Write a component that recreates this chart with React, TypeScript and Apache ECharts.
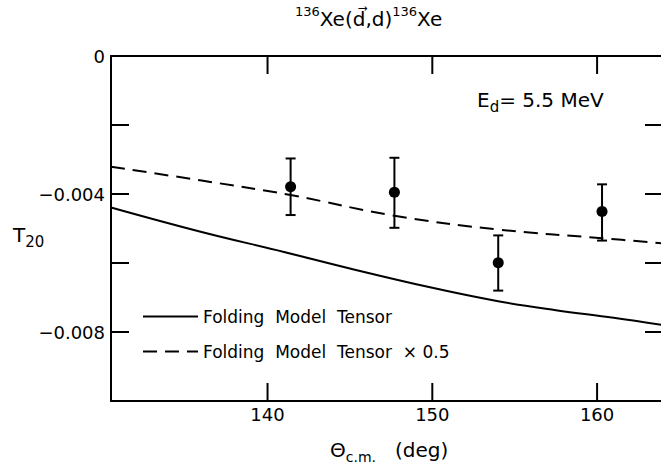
import React, { useEffect, useRef } from "react";
import * as echarts from "echarts";

const FONT = "DejaVu Sans";

// Data points with error bars
const pointX = [141.4, 147.7, 154.0, 160.3];
const pointY = [-0.00379, -0.00395, -0.00599, -0.00451];
const errHigh = [-0.00297, -0.00295, -0.0052, -0.00372];
const errLow = [-0.00461, -0.00498, -0.0068, -0.00535];

// Folding model tensor (solid)
const solidX = [130.5, 136, 141, 145, 150, 154, 157.5, 161, 164];
const solidY = [-0.00439, -0.0051, -0.00568, -0.00616, -0.00672, -0.00711, -0.00737, -0.00759, -0.0078];

// Folding model tensor x 0.5 (dashed)
const dashX = [130.5, 136, 141.4, 147.7, 154, 160.3, 164];
const dashY = [-0.00321, -0.00361, -0.00403, -0.00463, -0.00503, -0.00528, -0.00543];

const xTicks = [140, 150, 160];
const yLabelValues = [0, -0.004, -0.008];
const yMin = -0.01;
const yMax = 0;

const seriesNames = ["Folding  Model  Tensor", "Folding  Model  Tensor  \u00d7 0.5"];

export default function App() {
  const ref = useRef<HTMLDivElement>(null);

  useEffect(() => {
    if (!ref.current) return;
    const chart = echarts.init(ref.current, null, { renderer: "svg" });
    const axisLine = { show: true, onZero: false, lineStyle: { color: "#000", width: 2 } };
    const tick = {
      show: true,
      inside: true,
      length: 18,
      lineStyle: { color: "#000", width: 2 },
    };
    const main = { fontFamily: FONT, fontSize: 20, fontWeight: "normal", color: "#000", lineHeight: 28 };
    const sup = { fontFamily: FONT, fontSize: 13, fontWeight: "normal", color: "#000", lineHeight: 13, verticalAlign: "top" };
    const sub = { fontFamily: FONT, fontSize: 15, fontWeight: "normal", color: "#000", lineHeight: 15, verticalAlign: "bottom" };
    const ts = (rich: any) => ({ fontWeight: "normal", fontFamily: FONT, rich });

    chart.setOption({
      animation: false,
      backgroundColor: "#fff",
      title: [
        {
          text: "{sup|136}{m|Xe(d\u20d7,d)}{sup|136}{m|Xe}",
          left: 295,
          top: 5,
          padding: 0,
          textStyle: ts({ m: main, sup }),
        },
        {
          text: "{m|E}{s|d}{m|= 5.5 MeV}",
          left: 477,
          top: 86,
          padding: 0,
          textStyle: ts({ m: main, s: sub }),
        },
        {
          text: "{m|T}{s|20}",
          left: 13,
          top: 221,
          padding: 0,
          textStyle: ts({ m: main, s: sub }),
        },
        {
          text: "{m|\u0398}{s|c.m.}{m|   (deg)}",
          left: 330,
          top: 436,
          padding: 0,
          textStyle: ts({ m: main, s: { ...sub, fontSize: 14, lineHeight: 14 } }),
        },
      ],
      legend: {
        orient: "vertical",
        left: 142,
        top: 308,
        itemWidth: 55,
        itemHeight: 14,
        itemGap: 18,
        padding: 0,
        data: seriesNames,
        itemStyle: { opacity: 0 },
        textStyle: { fontFamily: FONT, fontSize: 17, color: "#000" },
      },
      grid: { left: 111, top: 56, width: 552, height: 345 },
      xAxis: [
        {
          type: "value",
          min: 130.5,
          max: 164,
          splitNumber: 3,
          position: "bottom",
          axisLine,
          axisTick: { show: false },
          splitLine: { show: false },
          axisLabel: {
            customValues: xTicks,
            fontFamily: FONT,
            fontSize: 18,
            color: "#000",
            margin: 4,
          },
        },
        {
          type: "value",
          min: 130.5,
          max: 164,
          splitNumber: 3,
          position: "top",
          axisLine,
          axisTick: { show: false },
          splitLine: { show: false },
          axisLabel: { show: false },
        },
      ],
      yAxis: [
        {
          type: "value",
          min: yMin,
          max: yMax,
          interval: 0.002,
          position: "left",
          axisLine,
          axisTick: tick,
          splitLine: { show: false },
          axisLabel: {
            customValues: yLabelValues,
            fontFamily: FONT,
            fontSize: 18,
            color: "#000",
            margin: 6,
            formatter: (v: number) => (Math.abs(v) < 1e-9 ? "0" : "\u2212" + Math.abs(v).toFixed(3)),
          },
        },
        {
          type: "value",
          min: yMin,
          max: yMax,
          interval: 0.002,
          position: "right",
          axisLine,
          axisTick: tick,
          splitLine: { show: false },
          axisLabel: { show: false },
        },
      ],
      series: [
        {
          name: seriesNames[0],
          type: "line",
          data: solidX.map((x, i) => [x, solidY[i]]),
          smooth: 0.4,
          symbol: "none",
          lineStyle: { color: "#000", width: 2 },
          itemStyle: { color: "#000" },
        },
        {
          name: seriesNames[1],
          type: "line",
          data: dashX.map((x, i) => [x, dashY[i]]),
          smooth: 0.4,
          symbol: "none",
          lineStyle: { color: "#000", width: 2, type: [14, 8] },
          itemStyle: { color: "#000" },
        },
        {
          name: "data",
          type: "scatter",
          data: pointX.map((x, i) => [x, pointY[i]]),
          symbol: "circle",
          symbolSize: 11,
          itemStyle: { color: "#000", opacity: 1 },
          z: 5,
        },
        {
          name: "err",
          type: "custom",
          data: pointX.map((x, i) => [x, errLow[i], errHigh[i]]),
          encode: { x: 0, y: [1, 2] },
          renderItem: (params: any, api: any) => {
            const x = api.value(0);
            const lo = api.coord([x, api.value(1)]);
            const hi = api.coord([x, api.value(2)]);
            const w = 5;
            const st = { stroke: "#000", lineWidth: 2 };
            return {
              type: "group",
              children: [
                { type: "line", shape: { x1: lo[0], y1: lo[1], x2: hi[0], y2: hi[1] }, style: st },
                { type: "line", shape: { x1: hi[0] - w, y1: hi[1], x2: hi[0] + w, y2: hi[1] }, style: st },
                { type: "line", shape: { x1: lo[0] - w, y1: lo[1], x2: lo[0] + w, y2: lo[1] }, style: st },
              ],
            };
          },
          z: 4,
        },
        {
          name: "xticks",
          type: "custom",
          data: xTicks.map((v) => [v]),
          encode: { x: 0 },
          clip: false,
          silent: true,
          renderItem: (params: any, api: any) => {
            const v = api.value(0);
            const top = api.coord([v, yMax]);
            const bot = api.coord([v, yMin]);
            const st = { stroke: "#000", lineWidth: 2 };
            return {
              type: "group",
              children: [
                { type: "line", shape: { x1: top[0], y1: top[1], x2: top[0], y2: top[1] + 18 }, style: st },
                { type: "line", shape: { x1: bot[0], y1: bot[1], x2: bot[0], y2: bot[1] - 18 }, style: st },
              ],
            };
          },
        },
      ],
    });
    return () => chart.dispose();
  }, []);

  return (
    <div style={{ position: "absolute", left: 0, top: 0, width: 661, height: 468, overflow: "hidden", background: "#fff" }}>
      <div ref={ref} style={{ width: 670, height: 468 }} />
    </div>
  );
}
